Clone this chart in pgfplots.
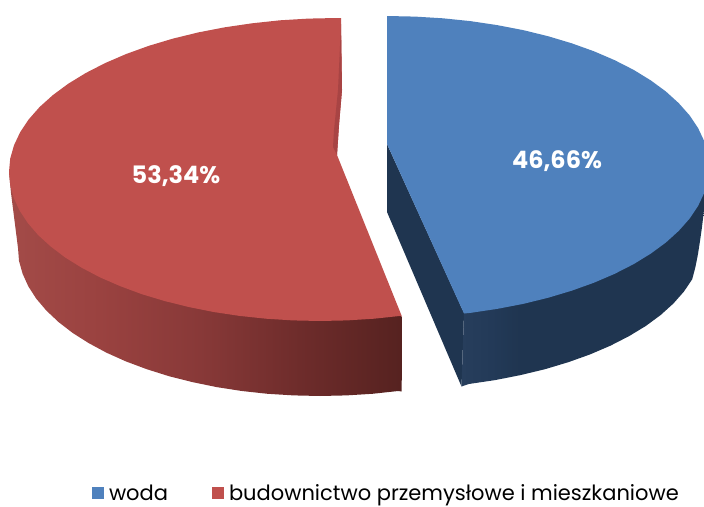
\documentclass[border=0pt]{standalone}
\usepackage{fontspec}
\setmainfont{Poppins}
\usepackage{pgfplots}
\pgfplotsset{compat=1.18}
\definecolor{bluetop}{HTML}{4F81BD}
\definecolor{redtop}{HTML}{C0504D}
\definecolor{bluedark}{HTML}{1F3550}
\definecolor{redband}{HTML}{A84444}
\definecolor{ra}{HTML}{A34B48}
\definecolor{rb}{HTML}{9A4240}
\definecolor{rc}{HTML}{883938}
\definecolor{rd}{HTML}{6E2C2B}
\definecolor{re}{HTML}{562220}
\definecolor{ba}{HTML}{273E5C}
\definecolor{bb}{HTML}{233A58}
\definecolor{bc}{HTML}{1F3550}
\pgfdeclarehorizontalshading{redside}{100bp}{color(0bp)=(ra); color(25bp)=(ra); color(36.6bp)=(rb); color(49.3bp)=(rc); color(62bp)=(rd); color(75bp)=(re); color(100bp)=(re)}
\pgfdeclarehorizontalshading{blueside}{100bp}{color(0bp)=(ba); color(25bp)=(ba); color(31bp)=(bb); color(37bp)=(bc); color(100bp)=(bc)}
\begin{document}
\begin{tikzpicture}
\useasboundingbox (0,0) rectangle (704pt,506pt);
\begin{axis}[at={(0,0)},anchor=south west,
  x=1pt,y=1pt,xmin=0,xmax=704,ymin=0,ymax=506,y dir=reverse,
  axis lines=none,
  clip=true,
  legend columns=2,
  legend cell align=left,
  legend style={at={(axis cs:92,504)},anchor=south west,draw=none,fill=none,
    font=\fontsize{21}{22}\selectfont,inner sep=0pt,outer sep=0pt,
    /tikz/every odd column/.append style={column sep=3pt},
    /tikz/every even column/.append style={column sep=42pt}},
  legend image code/.code={\path[#1,draw=none] (0pt,-6pt) rectangle (12pt,6pt);},
]
% blue inner wall
\addplot[fill=bluedark,draw=none,forget plot] coordinates {(387,144)(387,212)(461.5,386.5)(464,313)};
% blue outer wall
\addplot[shading=blueside,draw=none,forget plot] coordinates {
(464,313)(461.5,386.5)(468.8,384)(495.1,380.1)(520.5,375.1)(545,369.2)(568.3,362.2)(590.1,354.4)(610.4,345.7)(629.1,336.1)(645.9,325.9)(660.7,315)(673.4,303.5)(683.9,291.6)(692.2,279.3)(695.5,266.7)(698,253.9)(700,241)(702,227)(709,167)};
% blue top
\addplot[fill=bluetop,draw=none] coordinates {
(387,144)(387,16)(415.1,16.6)(442.9,18.3)(470.3,21.1)(497.1,25.1)(523.1,30.1)(548,36.2)(571.7,43.3)(594,51.3)(614.7,60.2)(633.7,69.9)(650.8,80.4)(665.9,91.5)(678.8,103.2)(689.6,115.4)(698,127.9)(704.1,140.8)(707.8,153.8)(709,167)
(707.8,180.2)(704.1,193.2)(698,206.1)(689.6,218.6)(678.8,230.8)(665.9,242.5)(650.8,253.6)(633.7,264.1)(614.7,273.8)(594,282.7)(571.7,290.7)(548,297.8)(523.1,303.9)(497.1,308.9)(470.3,312.9)(464,313.5)};
\addlegendentry{woda}
% red outer wall
\addplot[shading=redside,draw=none,forget plot] coordinates {
(402,316.7)(401.7,391.5)(398.2,391)(372.4,393.8)(346.3,395.4)(320,396)(293.7,395.4)(267.6,393.8)(241.8,391)(216.7,387.1)(192.4,382.1)(169,376.2)(146.8,369.2)(125.9,361.4)(106.5,352.7)(88.7,343.1)(72.6,332.9)(58.5,322)(46.3,310.5)(36.2,298.6)(28.3,286.3)(22.6,273.7)(19,260.9)(18,248)(11,193)(9,172)};
% red top
\addplot[fill=redtop,draw=none] coordinates {
(337,155)(339,125)(342,90)(341,18)(337,18)(308.4,18.6)(280.1,20.3)(252.1,23.3)(224.8,27.3)(198.4,32.4)(173,38.6)(148.9,45.8)(126.2,54)(105.1,63.1)(85.8,73)(68.3,83.7)(53,95)(39.7,106.9)(28.8,119.3)(20.2,132.1)(14,145.3)(10.2,158.6)(9,172)
(10.2,185)(13.7,197.9)(19.6,210.6)(27.8,223)(38.1,235)(50.7,246.5)(65.2,257.5)(81.8,267.8)(100.1,277.4)(120.1,286.1)(141.6,294.1)(164.5,301)(188.6,307)(213.6,312)(239.5,315.9)(266,318.7)(292.9,320.4)(320,321)(347.1,320.4)(374,318.7)(400.5,315.9)(402,316.7)};
\addlegendentry{budownictwo przemysłowe i mieszkaniowe}
% red inner wall
\addplot[fill=redband,draw=none,forget plot] coordinates {(341,24)(342,90)(339,125)(337,155)(333,147)(334,130)(338,90)};
\node[text=white,font=\bfseries\fontsize{24}{26}\selectfont] at (axis cs:176,176) {53,34\%};
\node[text=white,font=\bfseries\fontsize{24}{26}\selectfont] at (axis cs:557,161) {46,66\%};
\end{axis}
\end{tikzpicture}
\end{document}
